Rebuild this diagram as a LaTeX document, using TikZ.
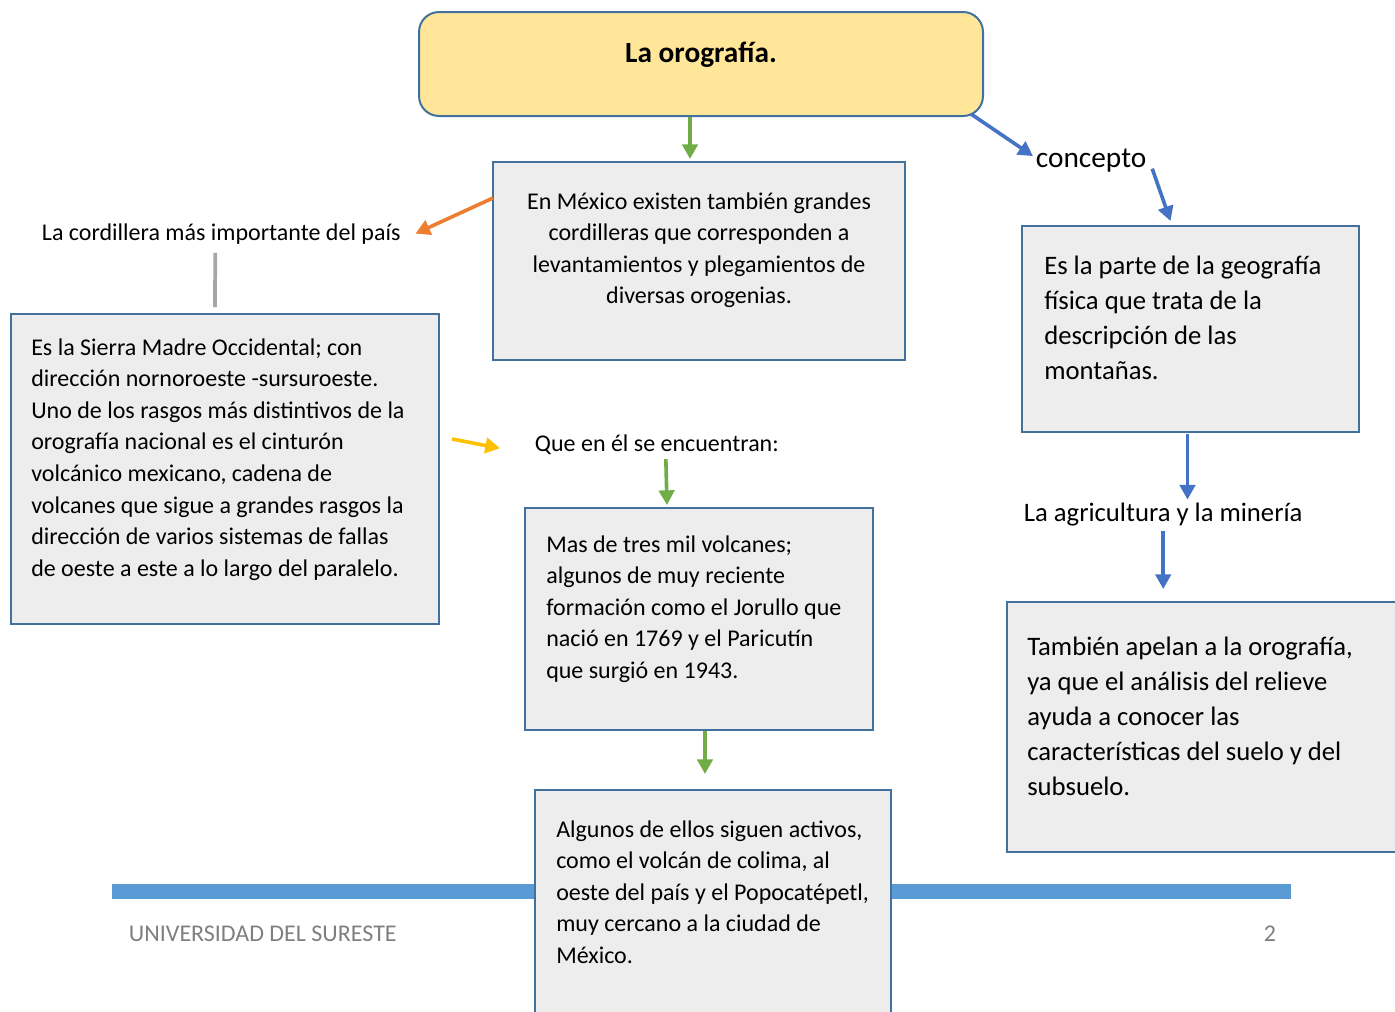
\documentclass[tikz,border=0pt]{standalone}
\usepackage{fontspec}
\setmainfont{Carlito}
\usepackage{xcolor}
\usetikzlibrary{positioning, arrows.meta}

\definecolor{boxline}{HTML}{41719C}
\definecolor{boxfill}{HTML}{EDEDED}
\definecolor{titlefill}{HTML}{FFE699}
\definecolor{arrgreen}{HTML}{70AD47}
\definecolor{arrblue}{HTML}{4472C4}
\definecolor{arrorange}{HTML}{ED7D31}
\definecolor{arryellow}{HTML}{FFC000}
\definecolor{footband}{HTML}{5B9BD5}
\definecolor{foottext}{HTML}{7F7F7F}

\begin{document}
\begin{tikzpicture}[x=0.75pt, y=-0.75pt,
            box/.style={draw=boxline, fill=boxfill, line width=1.5pt, rectangle, inner sep=0pt},
            txt/.style={inner sep=0pt, align=flush left, text width=300pt, anchor=base west, font=\fontsize{18}{23.7}\selectfont},
            bigtxt/.style={txt, font=\fontsize{20}{26.25}\selectfont},
            lbl/.style={inner sep=2pt, anchor=base west, font=\fontsize{18}{22}\selectfont},
            arr/.style={line width=2.7pt, -{Triangle[length=11pt,width=11.5pt]}}]
    \useasboundingbox (0,0) rectangle (1395,1011);
    \clip (0,0) rectangle (1395,1011);

    % Footer
    \fill[footband] (112,884) rectangle (1291,899);
    \node[lbl, text=foottext] (uni) at (126,941) {UNIVERSIDAD DEL SURESTE};
    \node[lbl, text=foottext] (page) at (1261,941) {2};

    % Nodes
    \node[box, fill=titlefill, rounded corners=15pt, minimum width=564*0.75pt, minimum height=104*0.75pt] (title) at (701,64) {};
    \node[inner sep=0pt, anchor=base, font=\fontsize{22}{26}\selectfont\bfseries] (titletxt) at (701,62) {La orografía.};

    \node[box, minimum width=412*0.75pt, minimum height=198*0.75pt] (box1) at (699,261) {};
    \node[txt, align=flush center, anchor=base] (box1txt) at (699,209)
        {En México existen también grandes\\cordilleras que corresponden a\\levantamientos y plegamientos de\\diversas orogenias.};

    \node[lbl, font=\fontsize{22}{26}\selectfont] (concepto) at (1033,167) {concepto};

    \node[box, minimum width=337*0.75pt, minimum height=206*0.75pt] (rbox) at (1190.5,329) {};
    \node[bigtxt] (rboxtxt) at (1044,274)
        {Es la parte de la geografía\\física que trata de la\\descripción de las\\montañas.};

    \node[lbl, font=\fontsize{20}{24}\selectfont] (agri) at (1021,521) {La agricultura y la minería};

    \node[box, minimum width=398*0.75pt, minimum height=250*0.75pt] (tambien) at (1206,727) {};
    \node[bigtxt] (tambientxt) at (1027,655)
        {También apelan a la orografía,\\ya que el análisis del relieve\\ayuda a conocer las\\características del suelo y del\\subsuelo.};

    \node[lbl] (cord) at (39,240) {La cordillera más importante del país};

    \node[box, minimum width=428*0.75pt, minimum height=310*0.75pt] (lbox) at (225,469) {};
    \node[txt] (lboxtxt) at (31,355)
        {Es la Sierra Madre Occidental; con\\dirección nornoroeste -sursuroeste.\\Uno de los rasgos más distintivos de la\\orografía nacional es el cinturón\\volcánico mexicano, cadena de\\volcanes que sigue a grandes rasgos la\\dirección de varios sistemas de fallas\\de oeste a este a lo largo del paralelo.};

    \node[lbl] (que) at (532,451) {Que en él se encuentran:};

    \node[box, minimum width=348*0.75pt, minimum height=222*0.75pt] (mas) at (699,619) {};
    \node[txt] (mastxt) at (546,552)
        {Mas de tres mil volcanes;\\algunos de muy reciente\\formación como el Jorullo que\\nació en 1769 y el Paricutín\\que surgió en 1943.};

    \node[box, minimum width=356*0.75pt, minimum height=235*0.75pt] (alg) at (713,907.5) {};
    \node[txt] (algtxt) at (556,837)
        {Algunos de ellos siguen activos,\\como el volcán de colima, al\\oeste del país y el Popocatépetl,\\muy cercano a la ciudad de\\México.};

    % Edges
    \draw[arr, arrgreen] ([shift={(-11,0)}]title.south) -- ([shift={(-9,-2)}]box1.north);
    \draw[arr, arrblue] ([shift={(-13,-3)}]title.south east) -- ([shift={(0,-4)}]concepto.west);
    \draw[arr, arrblue] ([shift={(3,-6)}]concepto.south east) -- ([shift={(-20,-4)}]rbox.north);
    \draw[arr, arrblue] ([shift={(-3,1)}]rbox.south) -- ([shift={(-3,0)}]rbox.south |- agri.north);
    \draw[arr, arrblue] ([shift={(0,2)}]agri.south) -- ([shift={(0,-12)}]agri.south |- tambien.north);
    \draw[arr, arrorange] ([shift={(1,-63)}]box1.west) -- ([shift={(12,0)}]cord.east);
    \draw[line width=2.8pt, black!35] ([shift={(-6,6)}]cord.south) -- ([shift={(-10,-6)}]lbox.north);
    \draw[arr, arryellow] ([shift={(12,-30)}]lbox.east) -- ([shift={(-32,4)}]que.west);
    \draw[arr, arrgreen] ([shift={(9,2)}]que.south) -- ([shift={(-32,-2)}]mas.north);
    \draw[arr, arrgreen] ([shift={(6,0)}]mas.south) -- ([shift={(6,-15)}]mas.south |- alg.north);
\end{tikzpicture}
\end{document}
